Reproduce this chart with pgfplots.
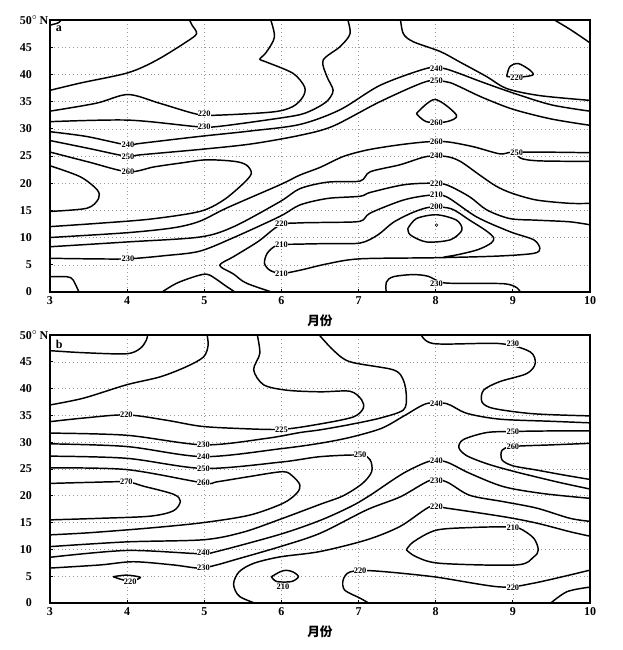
\documentclass[border=0pt]{standalone}
\usepackage{fontspec}
\setmainfont{Liberation Serif}
\newfontfamily\cjk{Noto Sans CJK SC}
\usepackage{pgfplots}
\pgfplotsset{compat=1.18}

\pgfplotsset{
  panel/.style={
    scale only axis, width=405pt,
    xmin=3, xmax=10, ymin=0, ymax=50,
    xtick={3,...,10}, ytick={0,5,...,50},
    xticklabels={3,4,5,6,7,8,9,10},
    yticklabels={0,5,10,15,20,25,30,35,40,45,50\rlap{$^\circ$\,N}},
    tick label style={font=\fontsize{9}{9}\selectfont\bfseries},
    yticklabel style={xshift=-10pt},
    grid=major, grid style={gray!80, line width=0.45pt, dash pattern=on 0.7pt off 2.2pt},
    axis line style={line width=1.1pt},
    tick style={black, line width=0.6pt}, major tick length=2pt, tick align=inside,
    tick pos=left,
    xlabel={\cjk\bfseries 月份},
    every axis x label/.style={at={(axis description cs:0.5,0)}, anchor=center, yshift=-21.5pt, font=\fontsize{9.5}{10}\selectfont},
  },
  cl/.style={black, line width=1.1pt, smooth, tension=0.5, mark=none},
}
\tikzset{lab/.style={font=\fontsize{6.3}{6.3}\selectfont\bfseries, fill=white, inner sep=0.2pt}}

\begin{document}
\begin{tikzpicture}
\path[use as bounding box] (-37.5pt,-268.5pt) rectangle (429.75pt,219pt);

% ---------------- panel a ----------------
\begin{axis}[panel, height=204pt, at={(0pt,0pt)}, anchor=south west]
\addplot[cl] coordinates {(2.98,49.0) (3.11,49.5) (3.17,50.5)};
\addplot[cl] coordinates {(2.98,37.0) (3.39,38.4) (4.01,40.3) (4.38,42.6) (4.77,46.0) (4.90,47.5) (4.84,49.1) (4.79,50.5)};
\addplot[cl] coordinates {(2.98,33.2) (3.60,34.7) (4.01,36.3) (4.42,34.7) (4.90,32.7) (5.16,32.5) (5.89,33.1) (6.15,34.1) (6.28,35.9) (6.30,37.7) (6.15,40.2) (5.80,42.3) (5.72,42.8) (5.80,44.0) (5.91,46.9) (5.85,50.5)};
\addplot[cl] coordinates {(2.98,31.3) (4.01,31.6) (4.90,30.4) (5.16,30.4) (5.8,31.6) (6.24,32.6) (6.45,33.8) (6.60,35.2) (6.67,37.1) (6.59,39.6) (6.54,42.6) (6.76,45.1) (6.89,47.5) (6.85,50.5)};
\addplot[cl] coordinates {(7.54,50.5) (7.58,47.5) (7.71,46.0) (8.06,44.2) (8.31,42.3) (8.66,39.6) (8.92,37.4) (9.35,36.1) (10.02,35.2)};
\addplot[cl] coordinates {(8.92,39.6) (8.96,41.4) (9.07,42.0) (9.22,40.8) (9.26,39.9) (9.09,39.5) (8.92,39.6)};
\addplot[cl] coordinates {(9.48,50.5) (9.75,48.2) (10.02,45.6)};
\addplot[cl] coordinates {(2.98,29.5) (3.47,28.6) (4.01,27.0) (4.16,27.3) (4.94,28.6) (5.6,29.6) (6.24,30.8) (6.76,33.5) (7.28,38.0) (7.88,41.1) (8.1,41.1) (8.3,40.2) (8.6,38.6) (9.0,36.6) (9.5,34.4) (10.02,33.2)};
\addplot[cl] coordinates {(2.98,27.9) (3.5,26.4) (4.01,24.9) (4.16,25.2) (4.94,26.2) (5.6,27.2) (6.24,28.8) (6.67,30.5) (7.28,35.0) (7.88,38.7) (8.15,38.6) (8.3,37.8) (8.6,35.8) (9.0,33.6) (9.5,31.8) (10.02,30.6)};
\addplot[cl] coordinates {(7.75,32.8) (7.99,35.4) (8.27,32.5) (8.14,31.3) (7.88,31.3) (7.75,32.8)};
\addplot[cl] coordinates {(2.98,25.8) (3.5,23.9) (4.01,22.1) (4.35,23.0) (4.69,23.7) (5.03,24.3) (5.40,24.0) (5.55,23.3) (5.61,21.8) (5.51,20.0) (5.25,16.9) (4.94,14.8) (4.3,13.4) (3.6,12.6) (2.98,12.0)};
\addplot[cl] coordinates {(2.98,23.3) (3.39,21.2) (3.61,18.8) (3.63,17.2) (3.48,15.4) (2.98,14.8)};
\addplot[cl] coordinates {(2.98,10.0) (4.0,10.9) (4.6,11.8) (4.94,13.0) (5.3,15.5) (5.98,19.7) (6.24,21.5) (6.5,22.9) (6.8,24.9) (7.11,26.1) (7.5,27.0) (7.88,27.6) (8.15,27.6) (8.49,26.7) (8.83,25.4) (9.0,25.7) (9.5,25.7) (10.02,25.6)};
\addplot[cl] coordinates {(10.02,24.0) (9.35,24.1) (9.12,24.5) (9.05,25.3)};
\addplot[cl] coordinates {(2.98,8.3) (4.0,9.2) (4.94,10.1) (5.38,12.0) (5.98,16.6) (6.24,19.0) (6.6,20.2) (7.02,20.4) (7.15,22.1) (7.54,23.4) (7.88,24.9) (8.14,24.9) (8.32,24.0) (8.57,21.5) (8.79,19.4) (9.0,18.1) (9.31,16.9) (9.74,16.3) (10.02,16.3)};
\addplot[cl] coordinates {(2.98,6.2) (3.5,6.1) (4.01,6.1) (4.5,6.7) (4.94,7.5) (5.38,10.0) (5.98,13.9) (6.24,16.0) (6.6,17.2) (7.02,17.6) (7.15,18.3) (7.58,19.7) (7.93,20.0) (8.14,19.7) (8.44,17.5) (8.66,15.1) (8.96,13.5) (9.31,13.2) (9.74,12.9) (10.02,12.3)};
\addplot[cl] coordinates {(5.98,-0.5) (5.55,1.6) (5.38,3.3) (5.20,4.9) (5.38,6.5) (5.7,9.3) (5.98,12.3) (6.24,12.7) (6.6,12.8) (7.02,13.0) (7.15,14.5) (7.58,16.9) (7.93,17.8) (8.14,17.5) (8.53,13.8) (8.96,11.1) (9.27,9.6) (9.35,8.0) (9.27,7.1) (8.8,6.6) (8.0,6.3) (7.02,6.1) (6.6,5.2) (6.24,4.0) (6.0,3.4) (5.85,4.0) (5.78,5.3) (5.82,7.2) (5.95,8.6) (6.24,8.8) (6.6,8.9) (7.02,9.0) (7.25,10.5) (7.45,12.8) (7.7,14.6) (7.93,15.6) (8.2,15.3) (8.44,13.2) (8.65,11.3) (8.75,10.0) (8.72,9.0) (8.55,7.8) (8.3,6.9) (8.1,6.4)};
\addplot[cl] coordinates {(7.64,11.7) (7.75,13.5) (8.01,14.2) (8.27,13.2) (8.34,11.4) (8.19,9.6) (7.88,9.2) (7.67,10.5) (7.64,11.7)};
\addplot[only marks, mark=o, mark size=1pt, black] coordinates {(8.01,12.3)};
\addplot[cl] coordinates {(2.98,2.8) (3.22,2.8) (3.30,2.2) (3.39,-0.5)};
\addplot[cl] coordinates {(4.40,-0.5) (4.64,1.6) (4.94,3.1) (5.07,3.1) (5.29,1.0) (5.45,-0.5)};
\addplot[cl] coordinates {(7.36,-0.5) (7.36,1.8) (7.45,2.8) (7.7,3.2) (7.9,2.9) (8.1,1.7) (8.5,1.6) (8.9,1.5) (9.05,0.8) (9.12,-0.5)};
\node[lab] at (axis cs:5.0,32.7) {220};
\node[lab] at (axis cs:5.0,30.4) {230};
\node[lab] at (axis cs:4.01,27.0) {240};
\node[lab] at (axis cs:4.01,24.9) {250};
\node[lab] at (axis cs:4.01,22.1) {260};
\node[lab] at (axis cs:4.01,6.1) {230};
\node[lab] at (axis cs:8.01,41.1) {240};
\node[lab] at (axis cs:8.01,38.8) {250};
\node[lab] at (axis cs:8.01,31.1) {260};
\node[lab] at (axis cs:9.05,39.4) {220};
\node[lab] at (axis cs:8.01,27.6) {260};
\node[lab] at (axis cs:9.05,25.6) {250};
\node[lab] at (axis cs:8.01,25.0) {240};
\node[lab] at (axis cs:8.01,19.9) {220};
\node[lab] at (axis cs:8.01,17.8) {210};
\node[lab] at (axis cs:8.01,15.7) {200};
\node[lab] at (axis cs:6.0,12.5) {220};
\node[lab] at (axis cs:6.0,8.7) {210};
\node[lab] at (axis cs:6.0,3.4) {210};
\node[lab] at (axis cs:8.01,1.6) {230};
\node[anchor=north west, font=\fontsize{9}{9}\selectfont\bfseries, inner sep=1pt] at (axis description cs:0.008,0.985) {a};
\end{axis}

% ---------------- panel b ----------------
\begin{axis}[panel, height=201pt, at={(0pt,-32.25pt)}, anchor=north west]
\addplot[cl] coordinates {(2.98,47.1) (3.43,46.7) (3.99,46.5) (4.17,47.5) (4.25,49.1) (4.27,50.5)};
\addplot[cl] coordinates {(2.98,36.9) (3.43,38.2) (3.99,40.7) (4.43,42.2) (4.77,44.1) (4.99,45.9) (5.05,48.1) (5.03,50.5)};
\addplot[cl] coordinates {(2.98,33.8) (3.43,34.5) (3.99,35.1) (4.51,34.1) (4.94,33.0) (5.38,32.6) (6.0,32.4) (6.5,33.4) (6.93,34.7) (7.06,36.3) (7.04,37.9) (6.89,39.5) (6.5,39.4) (6.07,39.7) (5.77,40.7) (5.64,43.5) (5.72,46.6) (5.68,50.5)};
\addplot[cl] coordinates {(2.98,31.7) (3.99,31.3) (4.99,29.5) (5.8,30.7) (6.24,31.8) (6.50,32.3) (6.89,33.3) (7.28,34.5) (7.58,36.0) (7.62,38.5) (7.58,41.6) (7.45,43.5) (6.89,45.0) (6.67,47.2) (6.46,50.5)};
\addplot[cl] coordinates {(2.98,29.7) (3.99,29.2) (4.99,27.3) (6.0,28.8) (6.50,29.8) (6.89,30.9) (7.3,32.6) (7.6,35.0) (7.88,37.2) (8.14,37.2) (8.40,35.4) (8.83,34.3) (9.5,33.9) (10.02,33.6)};
\addplot[cl] coordinates {(7.80,50.5) (7.97,48.4) (8.83,48.4) (9.22,46.9) (9.29,44.7) (9.18,42.8) (8.83,41.3) (8.62,39.7) (8.60,37.5) (8.75,36.3) (9.27,35.3) (10.02,34.9)};
\addplot[cl] coordinates {(10.02,32.1) (9.5,32.1) (9.0,32.0) (8.66,31.8) (8.36,30.5) (8.3,29.0) (8.40,27.5) (8.66,26.0) (9.0,24.6) (9.57,22.6) (10.02,21.2)};
\addplot[cl] coordinates {(10.02,29.8) (9.5,29.5) (9.0,29.2) (8.86,28.5) (8.86,26.7) (9.0,25.6) (9.31,24.8) (9.65,23.9) (10.02,23.0)};
\addplot[cl] coordinates {(2.98,22.3) (3.5,22.5) (3.99,22.6) (4.21,21.8) (4.60,20.3) (4.69,19.0) (4.60,17.2) (4.30,16.2) (3.65,15.8) (2.98,15.5)};
\addplot[cl] coordinates {(2.98,25.2) (3.99,24.9) (4.99,22.4) (5.16,22.6) (5.59,23.6) (6.02,24.5) (6.15,23.6) (6.24,22.0) (6.20,20.5) (6.02,18.6) (5.59,16.4) (4.99,15.0) (4.30,14.0) (3.5,13.1) (2.98,12.7)};
\addplot[cl] coordinates {(2.98,27.4) (3.99,27.0) (4.99,25.1) (6.0,26.3) (6.50,27.3) (7.02,27.6) (7.15,26.7) (7.17,24.5) (7.05,22.3) (6.80,20.0) (6.5,18.4) (5.98,15.6) (5.5,13.2) (4.99,11.8) (3.99,11.4) (2.98,10.5)};
\addplot[cl] coordinates {(2.98,8.5) (3.99,9.8) (4.94,9.2) (5.16,9.6) (5.98,12.8) (6.50,15.4) (6.9,18.0) (7.15,20.1) (7.58,24.2) (7.93,26.5) (8.14,26.3) (8.44,24.2) (8.88,21.7) (9.40,20.4) (10.02,19.5)};
\addplot[cl] coordinates {(2.98,6.5) (3.65,7.1) (4.08,7.7) (4.60,7.1) (4.94,6.5) (5.16,7.1) (5.38,8.0) (5.98,10.5) (6.50,13.0) (7.11,17.4) (7.54,19.8) (7.93,22.9) (8.14,22.6) (8.44,20.1) (8.88,18.9) (9.31,17.7) (9.74,15.8) (10.02,15.2)};
\addplot[cl] coordinates {(5.75,-0.5) (5.46,1.2) (5.38,3.5) (5.45,5.8) (5.64,7.4) (5.98,8.6) (6.50,9.6) (7.11,11.8) (7.54,14.3) (7.93,18.0) (8.14,17.7) (8.88,16.1) (9.31,14.9) (9.74,13.3) (10.02,12.4)};
\addplot[cl] coordinates {(7.62,9.9) (7.71,11.4) (8.01,13.6) (8.5,14.1) (8.92,14.2) (9.09,13.9) (9.27,12.1) (9.33,9.9) (9.27,8.6) (9.05,7.1) (8.06,7.4) (7.75,8.6) (7.62,9.9)};
\addplot[cl] coordinates {(5.87,4.9) (5.98,5.8) (6.06,6.1) (6.15,5.8) (6.22,4.9) (6.13,4.0) (5.94,4.0) (5.87,4.9)};
\addplot[cl] coordinates {(3.82,4.9) (3.99,5.2) (4.17,4.8) (4.08,4.2) (3.95,4.3) (3.82,4.9)};
\addplot[cl] coordinates {(7.19,-0.5) (7.02,0.9) (6.82,2.4) (6.80,4.3) (6.89,5.8) (7.19,6.0) (7.97,4.9) (8.83,3.0) (9.27,3.7) (10.02,6.2)};
\addplot[cl] coordinates {(9.45,-0.5) (9.70,2.1) (10.02,3.0)};
\node[lab] at (axis cs:3.99,35.1) {220};
\node[lab] at (axis cs:6.0,32.4) {225};
\node[lab] at (axis cs:4.99,29.5) {230};
\node[lab] at (axis cs:4.99,27.3) {240};
\node[lab] at (axis cs:4.99,25.1) {250};
\node[lab] at (axis cs:4.99,22.4) {260};
\node[lab] at (axis cs:3.99,22.6) {270};
\node[lab] at (axis cs:4.99,9.3) {240};
\node[lab] at (axis cs:4.99,6.5) {230};
\node[lab] at (axis cs:4.04,4.0) {220};
\node[lab] at (axis cs:6.02,3.0) {210};
\node[lab] at (axis cs:9.0,48.4) {230};
\node[lab] at (axis cs:8.01,37.2) {240};
\node[lab] at (axis cs:9.0,32.0) {250};
\node[lab] at (axis cs:9.0,29.2) {260};
\node[lab] at (axis cs:7.02,27.6) {250};
\node[lab] at (axis cs:8.01,26.5) {240};
\node[lab] at (axis cs:8.01,22.9) {230};
\node[lab] at (axis cs:8.01,18.0) {220};
\node[lab] at (axis cs:9.0,14.1) {210};
\node[lab] at (axis cs:7.02,6.0) {220};
\node[lab] at (axis cs:9.0,2.9) {220};
\node[anchor=north west, font=\fontsize{9}{9}\selectfont\bfseries, inner sep=1pt] at (axis description cs:0.008,0.985) {b};
\end{axis}
\end{tikzpicture}
\end{document}
